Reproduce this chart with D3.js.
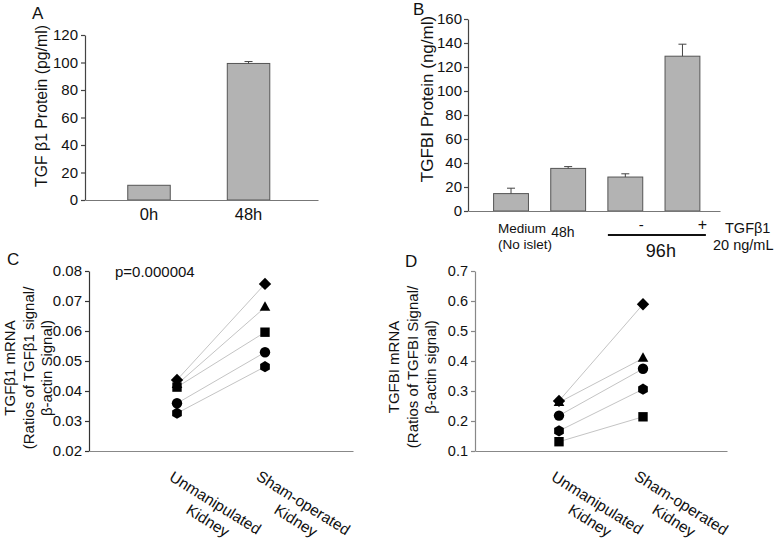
<!DOCTYPE html>
<html>
<head>
<meta charset="utf-8">
<script src="https://cdn.jsdelivr.net/npm/d3@7/dist/d3.min.js"></script>
<style>
  body { margin: 0; background: #fff; }
  svg { display: block; }
</style>
</head>
<body>
<svg id="chart" width="777" height="541"></svg>
<script>
// panel A - TGF b1 protein
const catsA = ["0h", "48h"];
const valsA = [10.7, 99.3];
const errA = [0, 1.4];
const ticksA = [0, 20, 40, 60, 80, 100, 120];

// panel B - TGFBI protein
const catsB = ["medium", "48h", "96h-", "96h+"];
const valsB = [14.5, 35.5, 28.3, 129];
const errB = [4.5, 1.5, 2.7, 10];
const ticksB = [0, 20, 40, 60, 80, 100, 120, 140, 160];

// panels C and D - paired kidneys
const kidneyCats = [["Unmanipulated", "Kidney"], ["Sham-operated", "Kidney"]];
const shapes = ["diamond", "triangle", "square", "circle", "hexagon"];
const cUnman = [0.0437, 0.0422, 0.0413, 0.0359, 0.0326];
const cSham = [0.0757, 0.0679, 0.0596, 0.0529, 0.0481];
const ticksC = [0.02, 0.03, 0.04, 0.05, 0.06, 0.07, 0.08];
const dUnman = [0.267, 0.262, 0.131, 0.218, 0.167];
const dSham = [0.589, 0.409, 0.214, 0.374, 0.306];
const ticksD = [0.1, 0.2, 0.3, 0.4, 0.5, 0.6, 0.7];

const font = "'Liberation Sans', Arial, sans-serif";
const svg = d3.select("#chart").style("font-family", font);

// little marker shapes, Excel style
const sym = {
  diamond: { draw(c) { const r = 6.2; c.moveTo(0, -r); c.lineTo(r, 0); c.lineTo(0, r); c.lineTo(-r, 0); c.closePath(); } },
  triangle: { draw(c) { c.moveTo(0, -6); c.lineTo(5.3, 3.5); c.lineTo(-5.3, 3.5); c.closePath(); } },
  square: { draw(c) { const h = 4.7; c.rect(-h, -h, 2 * h, 2 * h); } },
  circle: { draw(c) { c.moveTo(5.2, 0); c.arc(0, 0, 5.2, 0, 2 * Math.PI); } },
  hexagon: { draw(c) {
    const r = 5.6;
    for (let k = 0; k < 6; k++) {
      const a = -Math.PI / 2 + k * Math.PI / 3;
      if (k === 0) c.moveTo(r * Math.cos(a), r * Math.sin(a)); else c.lineTo(r * Math.cos(a), r * Math.sin(a));
    }
    c.closePath();
  } }
};

function styleAxis(g, color, size) {
  g.select(".domain").attr("stroke", color).attr("stroke-width", 1.2);
  g.selectAll(".tick line").attr("stroke", color).attr("stroke-width", 1.2);
  g.selectAll(".tick text").attr("fill", "#111").style("font-size", size + "px").style("font-family", font);
}

function label(x, y, txt, size, anchor) {
  svg.append("text").attr("x", x).attr("y", y).attr("text-anchor", anchor || "start")
    .style("font-size", size + "px").attr("fill", "#111").text(txt);
}

function yTitle(x, y, lines, size, gap) {
  const t = svg.append("text").attr("transform", `translate(${x},${y}) rotate(-90)`)
    .attr("text-anchor", "middle").style("font-size", size + "px").attr("fill", "#111");
  lines.forEach((l, i) => t.append("tspan").attr("x", 0).attr("y", i * gap).text(l));
}

function bars(x, y, vals, errs, cats) {
  const g = svg.append("g");
  g.selectAll("rect").data(vals).enter().append("rect")
    .attr("x", (d, i) => x(cats[i]))
    .attr("y", d => y(d))
    .attr("width", x.bandwidth())
    .attr("height", d => y(0) - y(d))
    .attr("fill", "#b3b3b3")
    .attr("stroke", "#555")
    .attr("stroke-width", 1);
  g.selectAll("path.err").data(vals.filter((d, i) => errs[i] > 0)).enter().append("path")
    .attr("class", "err")
    .attr("d", d => {
      const i = vals.indexOf(d);
      const cx = x(cats[i]) + x.bandwidth() / 2;
      return `M${cx},${y(d)}V${y(d + errs[i])}M${cx - 4},${y(d + errs[i])}H${cx + 4}`;
    })
    .attr("fill", "none").attr("stroke", "#444").attr("stroke-width", 1);
}

// ---------- A ----------
const yA = d3.scaleLinear().domain([0, 120]).range([200, 35]);
const xA = d3.scaleBand().domain(catsA).range([85, 318])
  .paddingInner(0.573).paddingOuter(0.457).align(0.47);
bars(xA, yA, valsA, errA, catsA);
svg.append("g").attr("transform", "translate(85,0)")
  .call(d3.axisLeft(yA).tickValues(ticksA).tickSize(4).tickSizeOuter(0).tickPadding(3))
  .call(g => styleAxis(g, "#444", 15));
svg.append("g").attr("transform", "translate(0,200)")
  .call(d3.axisBottom(xA).tickSize(0).tickPadding(8))
  .call(g => styleAxis(g, "#777", 16.5));
label(32, 19, "A", 17);
yTitle(47, 106, ["TGF β1 Protein (pg/ml)"], 15.8, 0);

// ---------- B ----------
const yB = d3.scaleLinear().domain([0, 160]).range([211, 19]);
const xB = d3.scaleBand().domain(catsB).range([468, 720])
  .paddingInner(0.39).paddingOuter(0.4).align(0.56);
bars(xB, yB, valsB, errB, catsB);
svg.append("g").attr("transform", "translate(468,0)")
  .call(d3.axisLeft(yB).tickValues(ticksB).tickSize(4).tickSizeOuter(0).tickPadding(2))
  .call(g => styleAxis(g, "#444", 15));
svg.append("g").attr("transform", "translate(0,211)")
  .call(d3.axisBottom(xB).tickValues([]).tickSizeOuter(0))
  .call(g => styleAxis(g, "#777", 14));
label(413, 15, "B", 17);
yTitle(433, 99, ["TGFBI Protein (ng/ml)"], 17, 0);

const cB = c => xB(c) + xB.bandwidth() / 2;
label(cB("medium") - 13, 233, "Medium", 13.5);
label(cB("medium") - 13, 249, "(No islet)", 13.5);
label(cB("48h") - 17, 237, "48h", 14);
label(cB("96h-") + 16, 230, "-", 15, "middle");
label(cB("96h+") + 20, 230, "+", 16, "middle");
label(725, 233, "TGFβ1", 14.5);
label(713, 250, "20 ng/mL", 14.5);
svg.append("line")
  .attr("x1", xB("96h-")).attr("x2", xB("96h+") + xB.bandwidth() + 6)
  .attr("y1", 235).attr("y2", 235)
  .attr("stroke", "#111").attr("stroke-width", 1.8);
label((xB("96h-") + xB("96h+") + xB.bandwidth() + 6) / 2 + 4, 257, "96h", 18, "middle");

// ---------- C / D ----------
function pairPanel(x, y, ticks, unman, sham, yColor, xColor, tickSize) {
  svg.append("g").attr("transform", `translate(${x.range()[0]},0)`)
    .call(d3.axisLeft(y).tickValues(ticks).tickSize(4).tickSizeOuter(0).tickPadding(3)
      .tickFormat(d3.format(ticks[1] < 0.1 ? ".2f" : ".1f")))
    .call(g => styleAxis(g, yColor, tickSize));
  svg.append("g").attr("transform", `translate(0,${y.range()[0]})`)
    .call(d3.axisBottom(x).tickValues([]).tickSizeOuter(0))
    .call(g => styleAxis(g, xColor, 14));

  const g = svg.append("g");
  g.selectAll("line.pair").data(unman).enter().append("line")
    .attr("class", "pair")
    .attr("x1", x(1)).attr("y1", d => y(d))
    .attr("x2", x(2)).attr("y2", (d, i) => y(sham[i]))
    .attr("stroke", "#c4c4c4").attr("stroke-width", 1);
  [unman, sham].forEach((vals, k) => {
    g.selectAll("path.m" + k).data(vals).enter().append("path")
      .attr("class", "m" + k)
      .attr("transform", d => `translate(${x(k + 1)},${y(d)})`)
      .attr("d", (d, i) => d3.symbol().type(sym[shapes[i]])())
      .attr("fill", "#000");
  });

  kidneyCats.forEach((lines, k) => {
    const t = svg.append("g")
      .attr("transform", `translate(${x(k + 1)},${y.range()[0]}) rotate(32)`);
    t.append("text").attr("x", 60).attr("y", 29).attr("text-anchor", "middle")
      .style("font-size", "15.5px").attr("fill", "#111").text(lines[0]);
    t.append("text").attr("x", 63).attr("y", 48).attr("text-anchor", "middle")
      .style("font-size", "15.5px").attr("fill", "#111").text(lines[1]);
  });
}

const xC = d3.scaleLinear().domain([0, 3]).range([89, 353]);
const yC = d3.scaleLinear().domain([0.02, 0.08]).range([451, 271]);
pairPanel(xC, yC, ticksC, cUnman, cSham, "#333", "#888", 15);
label(7, 265, "C", 17);
label(115, 277, "p=0.000004", 15);
yTitle(15, 368, ["TGFβ1 mRNA", "(Ratios of TGFβ1 signal/", "β-actin  Signal)"], 15, 18.5);

const xD = d3.scaleLinear().domain([0, 3]).range([475, 727]);
const yD = d3.scaleLinear().domain([0.1, 0.7]).range([451, 271]);
pairPanel(xD, yD, ticksD, dUnman, dSham, "#888", "#888", 14.5);
label(405, 267, "D", 17);
yTitle(399, 367, ["TGFBI mRNA", "(Ratios of TGFBI Signal/", "β-actin signal)"], 15, 18.5);
</script>
</body>
</html>
